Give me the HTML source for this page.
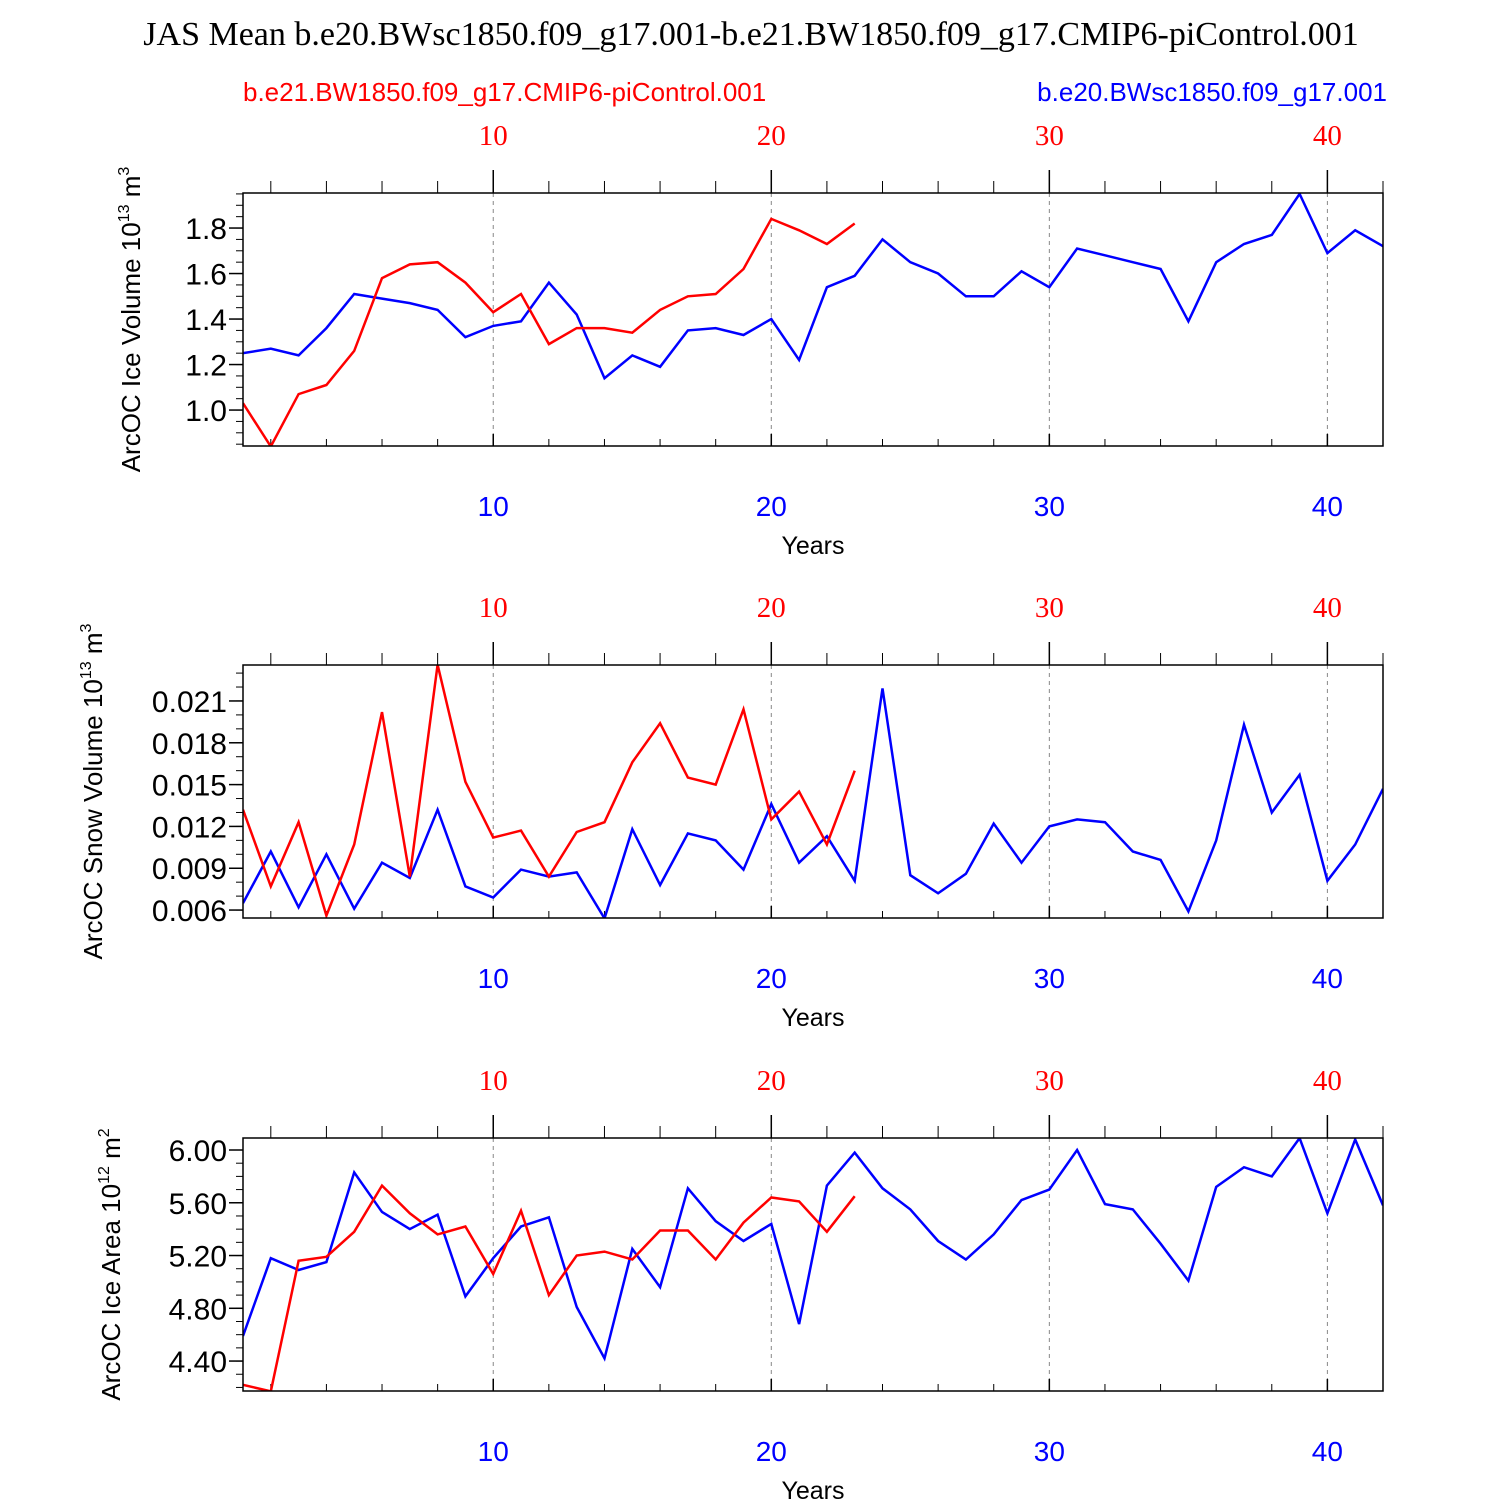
<!DOCTYPE html>
<html><head><meta charset="utf-8"><style>body{margin:0;background:#fff}svg{display:block}</style></head>
<body>
<svg id="chart" width="1500" height="1500" xmlns="http://www.w3.org/2000/svg" font-family="Liberation Sans, sans-serif">
<text x="751" y="45" text-anchor="middle" font-family="Liberation Serif, serif" font-size="34">JAS Mean b.e20.BWsc1850.f09_g17.001-b.e21.BW1850.f09_g17.CMIP6-piControl.001</text>
<text x="243" y="101" fill="red" font-size="26">b.e21.BW1850.f09_g17.CMIP6-piControl.001</text>
<text x="1387" y="101" fill="blue" font-size="26" text-anchor="end">b.e20.BWsc1850.f09_g17.001</text>
</svg>
<script>
const xTicks=[10,20,30,40];
const p1Blue=[1.25,1.27,1.24,1.36,1.51,1.49,1.47,1.44,1.32,1.37,1.39,1.56,1.42,1.14,1.24,1.19,1.35,1.36,1.33,1.40,1.22,1.54,1.59,1.75,1.65,1.60,1.50,1.50,1.61,1.54,1.71,1.68,1.65,1.62,1.39,1.65,1.73,1.77,1.95,1.69,1.79,1.72];
const p1Red=[1.03,0.84,1.07,1.11,1.26,1.58,1.64,1.65,1.56,1.43,1.51,1.29,1.36,1.36,1.34,1.44,1.50,1.51,1.62,1.84,1.79,1.73,1.82];
const p1Ticks=[1.0,1.2,1.4,1.6,1.8];
const p2Blue=[0.0065,0.0102,0.0062,0.0100,0.0061,0.0094,0.0083,0.0132,0.0077,0.0069,0.0089,0.0084,0.0087,0.0054,0.0118,0.0078,0.0115,0.0110,0.0089,0.0136,0.0094,0.0113,0.0081,0.0219,0.0085,0.0072,0.0086,0.0122,0.0094,0.0120,0.0125,0.0123,0.0102,0.0096,0.0059,0.0110,0.0193,0.0130,0.0157,0.0081,0.0107,0.0147];
const p2Red=[0.0132,0.0077,0.0123,0.0056,0.0107,0.0202,0.0084,0.0236,0.0152,0.0112,0.0117,0.0084,0.0116,0.0123,0.0166,0.0194,0.0155,0.0150,0.0204,0.0125,0.0145,0.0107,0.0160];
const p2Ticks=[0.006,0.009,0.012,0.015,0.018,0.021];
const p3Blue=[4.59,5.18,5.09,5.15,5.83,5.53,5.40,5.51,4.89,5.18,5.42,5.49,4.81,4.42,5.25,4.96,5.71,5.46,5.31,5.44,4.68,5.73,5.98,5.71,5.55,5.31,5.17,5.36,5.62,5.70,6.00,5.59,5.55,5.29,5.01,5.72,5.87,5.80,6.09,5.52,6.08,5.58];
const p3Red=[4.22,4.17,5.16,5.19,5.38,5.73,5.52,5.36,5.42,5.06,5.54,4.90,5.20,5.23,5.17,5.39,5.39,5.17,5.45,5.64,5.61,5.38,5.65];
const p3Ticks=[4.40,4.80,5.20,5.60,6.00];

const svg=document.getElementById('chart');
const NS='http://www.w3.org/2000/svg';
function mk(tag,attrs,parent){const e=document.createElementNS(NS,tag);for(const k in attrs)e.setAttribute(k,attrs[k]);(parent||svg).appendChild(e);return e;}
const L=243,R=1383;
const xs=v=>L+(v-1)*(R-L)/41;

const panels=[
 {top:193,bot:446,ymin:0.842,ymax:1.954,blue:p1Blue,red:p1Red,ticks:p1Ticks,dec:1,minor:0.05,name:'ice-volume',title:'ArcOC Ice Volume 10',sup:'13',unit:' m',usup:'3',tx:140},
 {top:665,bot:918,ymin:0.00543,ymax:0.02358,blue:p2Blue,red:p2Red,ticks:p2Ticks,dec:3,minor:0.001,name:'snow-volume',title:'ArcOC Snow Volume 10',sup:'13',unit:' m',usup:'3',tx:102},
 {top:1138,bot:1391,ymin:4.173,ymax:6.091,blue:p3Blue,red:p3Red,ticks:p3Ticks,dec:2,minor:0.1,name:'ice-area',title:'ArcOC Ice Area 10',sup:'12',unit:' m',usup:'2',tx:120}
];
panels.forEach((p,i)=>{
 const g=mk('g',{});
 
 
 const ys=v=>p.bot-(v-p.ymin)*(p.bot-p.top)/(p.ymax-p.ymin);
 const cid='clip'+i;
 const cp=mk('clipPath',{id:cid},g);mk('rect',{x:L,y:p.top,width:R-L,height:p.bot-p.top},cp);
 xTicks.forEach(t=>{
  const gl=mk('line',{x1:xs(t),x2:xs(t),y1:p.top,y2:p.bot,stroke:'#888','stroke-dasharray':'4,4','stroke-width':1},g);
  
  
  mk('line',{x1:xs(t),x2:xs(t),y1:p.top-23,y2:p.top,stroke:'#000','stroke-width':1.5},g);
  mk('line',{x1:xs(t),x2:xs(t),y1:p.bot,y2:p.bot-12,stroke:'#000','stroke-width':1.5},g);
  const tt=mk('text',{x:xs(t),y:p.top-48,'text-anchor':'middle',fill:'red','font-family':'Liberation Serif, serif','font-size':29},g);tt.textContent=t;
  
  
  const bt=mk('text',{x:xs(t),y:p.bot+70,'text-anchor':'middle',fill:'blue','font-size':28},g);bt.textContent=t;
  
  
 });
 for(let x=2;x<=42;x+=2){ if(x%10) {mk('line',{x1:xs(x),x2:xs(x),y1:p.top-12,y2:p.top,stroke:'#000'},g);mk('line',{x1:xs(x),x2:xs(x),y1:p.bot,y2:p.bot-7,stroke:'#000'},g);} }
 for(let k=Math.ceil(p.ymin/p.minor);k*p.minor<=p.ymax;k++){const y=ys(k*p.minor);mk('line',{x1:L-7,x2:L,y1:y,y2:y,stroke:'#000'},g);}
 p.ticks.forEach(t=>{
  mk('line',{x1:L-14,x2:L,y1:ys(t),y2:ys(t),stroke:'#000','stroke-width':1.5},g);
  const tl=mk('text',{x:L-16,y:ys(t)+11,'text-anchor':'end','font-size':30},g);tl.textContent=t.toFixed(p.dec);
  
  
 });
 [['blue',p.blue],['red',p.red]].forEach(([c,arr])=>{
  const pts=arr.map((v,j)=>xs(j+1).toFixed(1)+','+ys(v).toFixed(1)).join(' ');
  const pl=mk('polyline',{points:pts,fill:'none',stroke:c,'stroke-width':2.5,'clip-path':'url(#'+cid+')'},g);
  
  
 });
 const fr=mk('rect',{x:L,y:p.top,width:R-L,height:p.bot-p.top,fill:'none',stroke:'#000','stroke-width':1.5},g);
 
 
 const xt=mk('text',{x:813,y:p.bot+108,'text-anchor':'middle','font-size':25},g);xt.textContent='Years';
 
 
 const cy=(p.top+p.bot)/2;
 const yt=mk('text',{x:p.tx,y:cy,'text-anchor':'middle','font-size':26,transform:'rotate(-90 '+p.tx+' '+cy+')'},g);
 
 
 yt.innerHTML=p.title+'<tspan font-size="16" dy="-11">'+p.sup+'</tspan><tspan dy="11">'+p.unit+'</tspan><tspan font-size="16" dy="-11">'+p.usup+'</tspan>';
});
</script>
</body></html>
